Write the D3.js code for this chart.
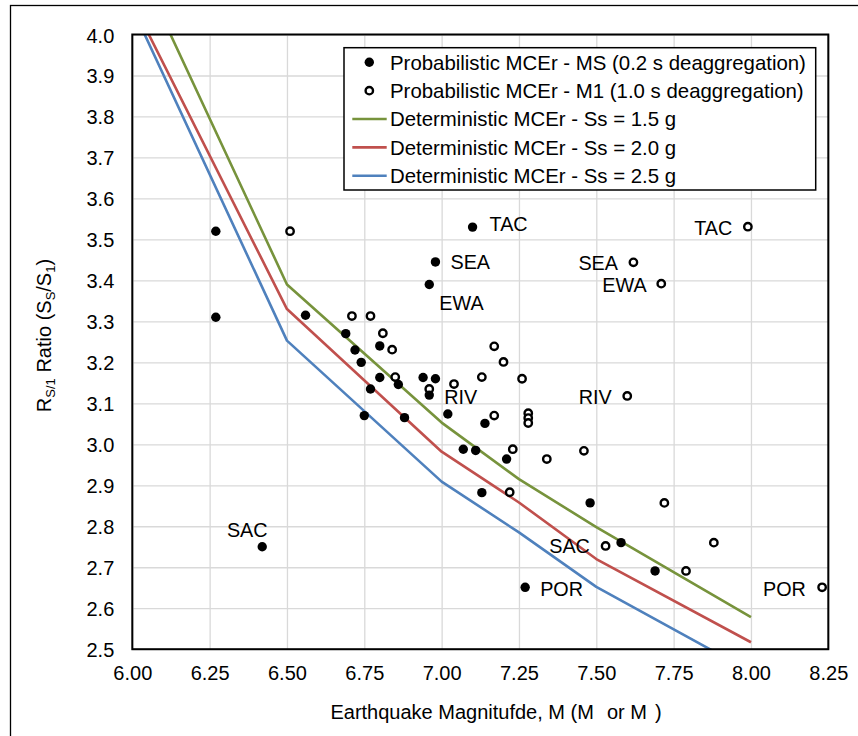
<!DOCTYPE html>
<html><head><meta charset="utf-8">
<script src="https://cdn.jsdelivr.net/npm/d3@7"></script>
<style>
body{margin:0;background:#fff}
svg text{font-family:"Liberation Sans",Arial,sans-serif;fill:#000}
</style>
</head><body>
<svg id="c" width="858" height="736"></svg>
<script>
// ---- data ----
const msM = [6.27, 6.27, 6.42, 6.56, 6.69, 6.72, 6.74, 6.75, 6.77, 6.80, 6.80, 6.86, 6.88, 6.94, 6.96, 6.96, 6.98, 6.98, 7.02, 7.07, 7.10, 7.11, 7.13, 7.14, 7.21, 7.27, 7.48, 7.58, 7.69];
const msR = [3.52, 3.31, 2.75, 3.315, 3.27, 3.23, 3.20, 3.07, 3.135, 3.24, 3.163, 3.146, 3.065, 3.163, 3.12, 3.39, 3.445, 3.16, 3.074, 2.988, 3.53, 2.985, 2.882, 3.051, 2.964, 2.651, 2.857, 2.760, 2.691];
const msLabelIdx = [2, 14, 15, 16, 20, 25];
const msLabelText = ["SAC", "RIV", "EWA", "SEA", "TAC", "POR"];

const m1M = [6.51, 6.71, 6.77, 6.81, 6.84, 6.85, 6.96, 7.04, 7.13, 7.17, 7.17, 7.20, 7.22, 7.23, 7.26, 7.28, 7.28, 7.28, 7.34, 7.46, 7.53, 7.60, 7.62, 7.71, 7.72, 7.79, 7.88, 7.99, 8.23];
const m1R = [3.52, 3.313, 3.313, 3.271, 3.231, 3.164, 3.135, 3.147, 3.164, 3.239, 3.07, 3.201, 2.883, 2.988, 3.16, 3.076, 3.064, 3.052, 2.964, 2.984, 2.752, 3.118, 3.444, 3.392, 2.857, 2.691, 2.76, 3.531, 2.651];
const m1LabelIdx = [20, 21, 22, 23, 27, 28];
const m1LabelText = ["SAC", "RIV", "SEA", "EWA", "TAC", "POR"];

const detM = [6.0, 6.5, 7.0, 7.25, 7.5, 8.0];
const det15 = [4.20, 3.39, 3.053, 2.915, 2.798, 2.578];
const det20 = [4.08, 3.33, 2.982, 2.858, 2.720, 2.517];
const det25 = [4.065, 3.253, 2.909, 2.785, 2.652, 2.445];

const xTicks = [6.00, 6.25, 6.50, 6.75, 7.00, 7.25, 7.50, 7.75, 8.00, 8.25];
const yTicks = [2.5, 2.6, 2.7, 2.8, 2.9, 3.0, 3.1, 3.2, 3.3, 3.4, 3.5, 3.6, 3.7, 3.8, 3.9, 4.0];

const legendNames = [
  "Probabilistic MCEr - MS (0.2 s deaggregation)",
  "Probabilistic MCEr - M1 (1.0 s deaggregation)",
  "Deterministic MCEr - Ss = 1.5 g",
  "Deterministic MCEr - Ss = 2.0 g",
  "Deterministic MCEr - Ss = 2.5 g"
];
const lineColors = ["#77933C", "#C0504D", "#4F81BD"];

// ---- layout ----
const svg = d3.select("#c");
const L = 132.3, R = 828.3, T = 34.5, B = 649.2;
const x = d3.scaleLinear().domain([6.0, 8.25]).range([L, R]);
const y = d3.scaleLinear().domain([2.5, 4.0]).range([B, T]);
const FS = 20;

// outer frame
svg.append("rect").attr("x", 10.5).attr("y", 5.5).attr("width", 870).attr("height", 760)
  .attr("fill", "#fff").attr("stroke", "#000").attr("stroke-width", 1.3);

// gridlines
svg.append("g").attr("transform", `translate(0,${B})`)
  .call(d3.axisBottom(x).tickValues(xTicks).tickSize(-(B - T)).tickFormat(""))
  .call(g => g.select(".domain").remove())
  .call(g => g.selectAll("line").attr("stroke", "#d9d9d9").attr("stroke-width", 1.3));
svg.append("g").attr("transform", `translate(${L},0)`)
  .call(d3.axisLeft(y).tickValues(yTicks).tickSize(-(R - L)).tickFormat(""))
  .call(g => g.select(".domain").remove())
  .call(g => g.selectAll("line").attr("stroke", "#d9d9d9").attr("stroke-width", 1.3));

// tick labels
const xa = svg.append("g").attr("transform", `translate(0,${B})`)
  .call(d3.axisBottom(x).tickValues(xTicks).tickSize(0).tickPadding(0).tickFormat(d3.format(".2f")));
xa.select(".domain").remove();
xa.selectAll("text").attr("font-size", FS).attr("font-family", "Liberation Sans, Arial, sans-serif")
  .attr("dy", null).attr("y", 31.3);
const ya = svg.append("g").attr("transform", `translate(${L},0)`)
  .call(d3.axisLeft(y).tickValues(yTicks).tickSize(0).tickPadding(0).tickFormat(d3.format(".1f")));
ya.select(".domain").remove();
ya.selectAll("text").attr("font-size", FS).attr("font-family", "Liberation Sans, Arial, sans-serif")
  .attr("dy", null).attr("x", -18).attr("y", 7.5);

// clip
svg.append("clipPath").attr("id", "plotclip").append("rect")
  .attr("x", L).attr("y", T).attr("width", R - L).attr("height", B - T);

// deterministic lines
const line = d3.line().x(d => x(d[0])).y(d => y(d[1]));
[det15, det20, det25].forEach((vals, k) => {
  svg.append("path").datum(detM.map((m, i) => [m, vals[i]]))
    .attr("clip-path", "url(#plotclip)")
    .attr("d", line).attr("fill", "none").attr("stroke", lineColors[k])
    .attr("stroke-width", 2.6).attr("stroke-linejoin", "round");
});

// points
svg.append("g").selectAll("circle").data(m1M.map((m, i) => [m, m1R[i]])).join("circle")
  .attr("cx", d => x(d[0])).attr("cy", d => y(d[1])).attr("r", 3.7)
  .attr("fill", "#fff").attr("stroke", "#000").attr("stroke-width", 2.4);
svg.append("g").selectAll("circle").data(msM.map((m, i) => [m, msR[i]])).join("circle")
  .attr("cx", d => x(d[0])).attr("cy", d => y(d[1])).attr("r", 4.7).attr("fill", "#000");

// point labels
const lblOffMS = {SAC: [-15, -9.5, "middle"], RIV: [15, 9, "start"], EWA: [10, 26, "start"],
  SEA: [15, 7.5, "start"], TAC: [17, 3.5, "start"], POR: [15, 8.5, "start"]};
const lblOffM1 = {SAC: [-15.7, 7, "end"], RIV: [-15.6, 8, "end"], SEA: [-15.4, 8, "end"],
  EWA: [-14.6, 8, "end"], TAC: [-15.6, 8, "end"], POR: [-16.3, 8.5, "end"]};
msLabelIdx.forEach((idx, j) => {
  const o = lblOffMS[msLabelText[j]];
  svg.append("text").attr("x", x(msM[idx]) + o[0]).attr("y", y(msR[idx]) + o[1])
    .attr("text-anchor", o[2]).attr("font-size", 19.8).text(msLabelText[j]);
});
m1LabelIdx.forEach((idx, j) => {
  const o = lblOffM1[m1LabelText[j]];
  svg.append("text").attr("x", x(m1M[idx]) + o[0]).attr("y", y(m1R[idx]) + o[1])
    .attr("text-anchor", o[2]).attr("font-size", 19.8).text(m1LabelText[j]);
});

// plot border
svg.append("rect").attr("x", L).attr("y", T).attr("width", R - L).attr("height", B - T)
  .attr("fill", "none").attr("stroke", "#000").attr("stroke-width", 2);

// legend
const lg = svg.append("g");
lg.append("rect").attr("x", 344).attr("y", 47.7).attr("width", 471.7).attr("height", 142.3)
  .attr("fill", "#fff").attr("stroke", "#000").attr("stroke-width", 1.5);
legendNames.forEach((name, i) => {
  const cy = 62.3 + i * 28.35;
  if (i === 0) lg.append("circle").attr("cx", 369.3).attr("cy", cy).attr("r", 4.7).attr("fill", "#000");
  else if (i === 1) lg.append("circle").attr("cx", 369.3).attr("cy", cy).attr("r", 3.7)
    .attr("fill", "#fff").attr("stroke", "#000").attr("stroke-width", 2.4);
  else lg.append("line").attr("x1", 352.3).attr("x2", 386.7).attr("y1", cy).attr("y2", cy)
    .attr("stroke", lineColors[i - 2]).attr("stroke-width", 2.6);
  lg.append("text").attr("x", 390).attr("y", cy + 7.3).attr("font-size", 20.4).text(name);
});

// axis titles
const xt = svg.append("text").attr("x", 496).attr("y", 718.5).attr("text-anchor", "middle")
  .attr("font-size", 20);
xt.append("tspan").text("Earthquake Magnitufde, M (M");
xt.append("tspan").attr("dx", 13).text("or M");
xt.append("tspan").attr("dx", 8).text(")");

const yt = svg.append("text").attr("transform", "translate(50.5,335.5) rotate(-90)")
  .attr("text-anchor", "middle").attr("font-size", 20);
yt.append("tspan").text("R");
yt.append("tspan").attr("font-size", 13).attr("dy", 4).text("S/1");
yt.append("tspan").attr("dy", -4).text(" Ratio (S");
yt.append("tspan").attr("font-size", 13).attr("dy", 4).text("S");
yt.append("tspan").attr("dy", -4).text("/S");
yt.append("tspan").attr("font-size", 13).attr("dy", 4).text("1");
yt.append("tspan").attr("dy", -4).text(")");
</script>
</body></html>
